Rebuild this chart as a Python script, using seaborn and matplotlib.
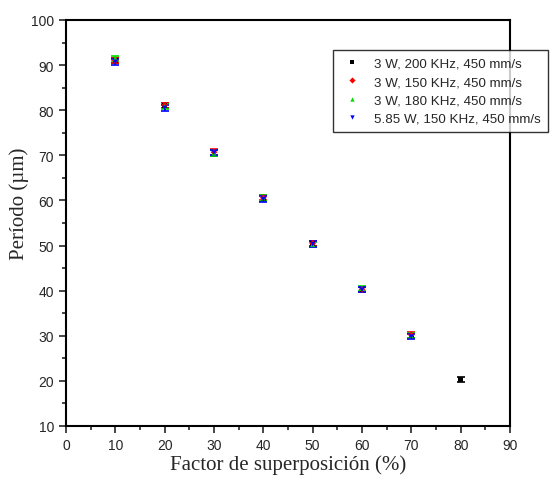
import numpy as np
import pandas as pd
import matplotlib
matplotlib.use('Agg')
import matplotlib.pyplot as plt
from matplotlib.ticker import MultipleLocator
import seaborn as sns

# ──────────────────────────────────────────────
# Data
# ──────────────────────────────────────────────
SERIES = ['3 W, 200 KHz, 450 mm/s',
          '3 W, 150 KHz, 450 mm/s',
          '3 W, 180 KHz, 450 mm/s',
          '5.85 W, 150 KHz, 450 mm/s']

X_BLACK = [10, 20, 30, 40, 50, 60, 70, 80]
Y_BLACK = [91.0, 81.0, 70.5, 60.5, 50.5, 40.3, 30.0, 20.3]

X_RED = [10, 20, 30, 40, 50, 60, 70]
Y_RED = [91.0, 81.1, 70.7, 60.6, 50.5, 40.3, 30.2]

X_GREEN = [10, 20, 30, 40, 50, 60, 70]
Y_GREEN = [91.5, 80.8, 70.5, 60.5, 50.2, 40.5, 30.0]

X_BLUE = [10, 20, 30, 40, 50, 60, 70]
Y_BLUE = [90.7, 80.5, 70.6, 60.3, 50.3, 40.2, 29.8]

ERR = 0.6

COLORS = ['black', 'red', '#00dd00', 'blue']
MARKERS = ['s', 'D', '^', 'v']

frames = []
for name, xs, ys in zip(SERIES,
                        [X_BLACK, X_RED, X_GREEN, X_BLUE],
                        [Y_BLACK, Y_RED, Y_GREEN, Y_BLUE]):
    frames.append(pd.DataFrame({'x': xs, 'y': ys, 'serie': name}))
df = pd.concat(frames, ignore_index=True)

sns.set_style('white')
plt.rcParams['font.family'] = ['Liberation Sans', 'DejaVu Sans']

fig = plt.figure(figsize=(5.53, 4.85), dpi=100)
ax = fig.add_axes([66 / 553, 1 - 427 / 485, (510 - 66) / 553, (427 - 21) / 485])

# error bars first, markers on top
for name, color in zip(SERIES, COLORS):
    sub = df[df['serie'] == name]
    ax.errorbar(sub['x'], sub['y'], yerr=ERR, fmt='none', ecolor=color,
                elinewidth=1.2, capsize=3, capthick=1.2, zorder=2)

sns.scatterplot(data=df, x='x', y='y', hue='serie', style='serie',
                palette=dict(zip(SERIES, COLORS)),
                markers=dict(zip(SERIES, MARKERS)),
                s=12, linewidth=0, ax=ax, zorder=3)

ax.set_xlim(0, 90)
ax.set_ylim(10, 100)
ax.xaxis.set_major_locator(MultipleLocator(10))
ax.xaxis.set_minor_locator(MultipleLocator(5))
ax.yaxis.set_major_locator(MultipleLocator(10))
ax.yaxis.set_minor_locator(MultipleLocator(5))
ax.tick_params(which='major', direction='out', length=5, width=1.2,
               labelsize=10, left=True, bottom=True, top=False, right=False)
ax.tick_params(which='minor', direction='out', length=3, width=1.2,
               left=True, bottom=True, top=False, right=False)
for sp in ax.spines.values():
    sp.set_color('black')
    sp.set_linewidth(1.5)

ax.set_xlabel('Factor de superposición (%)', family='Liberation Serif',
              fontsize=15, labelpad=2)
ax.set_ylabel('Período (µm)', family='Liberation Serif', fontsize=15)
ax.yaxis.set_label_coords(-0.083, 0.55)

leg = ax.legend(loc='upper left', bbox_to_anchor=(333 / 553, 1 - 51 / 485),
                bbox_transform=fig.transFigure, borderaxespad=0,
                fontsize=9.6, frameon=True, fancybox=False, edgecolor='black',
                borderpad=0.55, handlelength=1.8, handletextpad=0.7,
                labelspacing=0.45, markerscale=0.9)
leg.get_frame().set_linewidth(1.0)
leg.set_zorder(10)

fig.savefig('out.png', dpi=100, facecolor='white')
